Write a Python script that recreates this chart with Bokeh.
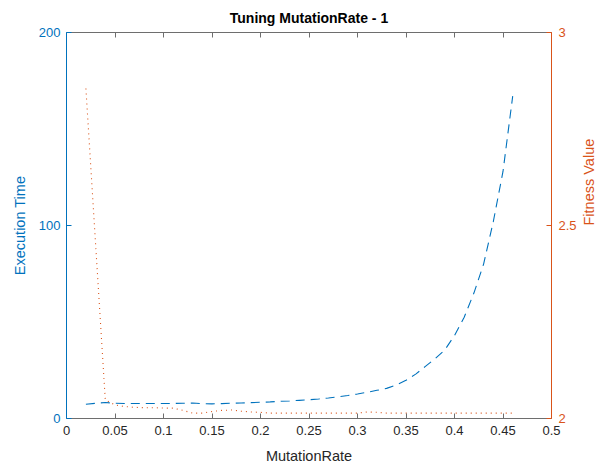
import math
from bokeh.plotting import figure
from bokeh.models import (Range1d, LinearAxis, FixedTicker, ColumnDataSource,
                          CustomLabelingPolicy)
from bokeh.embed import file_html
from bokeh.resources import INLINE

# ---- data ----
mutation_rate = [0.02, 0.04, 0.05, 0.06, 0.07, 0.08, 0.09, 0.10, 0.11, 0.12,
                 0.13, 0.14, 0.15, 0.16, 0.17, 0.18, 0.19, 0.20, 0.21, 0.22,
                 0.23, 0.24, 0.25, 0.26, 0.27, 0.28, 0.29, 0.30, 0.31, 0.32,
                 0.33, 0.34, 0.35, 0.36, 0.37, 0.38, 0.39, 0.40, 0.41, 0.42,
                 0.43, 0.44, 0.45, 0.46]
execution_time = [7.4, 8.3, 7.9, 7.8, 7.8, 7.8, 7.8, 7.8, 7.8, 7.9,
                  8.0, 7.7, 7.6, 7.7, 7.9, 8.0, 8.2, 8.4, 8.6, 8.9,
                  9.1, 9.4, 9.7, 10.1, 10.6, 11.2, 11.9, 12.7, 13.6, 14.6,
                  15.6, 17.4, 19.8, 23.0, 27.0, 31.0, 35.5, 43.0, 52.5, 65.0,
                  80.0, 102.0, 128.0, 167.0]
fitness_value = [2.855, 2.048, 2.035, 2.031, 2.029, 2.028, 2.028, 2.027, 2.027, 2.021,
                 2.014, 2.014, 2.018, 2.021, 2.022, 2.019, 2.017, 2.016, 2.014, 2.014,
                 2.014, 2.014, 2.014, 2.014, 2.014, 2.014, 2.014, 2.014, 2.017, 2.016,
                 2.014, 2.014, 2.014, 2.014, 2.014, 2.014, 2.014, 2.014, 2.014, 2.014,
                 2.014, 2.014, 2.014, 2.014]

x_ticks = [0, 0.05, 0.1, 0.15, 0.2, 0.25, 0.3, 0.35, 0.4, 0.45, 0.5]
x_tick_labels = ["0", "0.05", "0.1", "0.15", "0.2", "0.25", "0.3", "0.35", "0.4", "0.45", "0.5"]
left_ticks = [0, 100, 200]
left_tick_labels = ["0", "100", "200"]
right_ticks = [2, 2.5, 3]
right_tick_labels = ["2", "2.5", "3"]

BLUE = "#0072BD"
ORANGE = "#D95319"
DARK = "#262626"
GREY = "#6e6e6e"
FONT = "Liberation Sans"

src = ColumnDataSource(dict(x=mutation_rate, t=execution_time, f=fitness_value))

p = figure(width=607, height=466, output_backend="svg", toolbar_location=None,
           x_range=Range1d(0, 0.5), y_range=Range1d(0, 200),
           min_border_left=66, min_border_right=52, min_border_top=32, min_border_bottom=48,
           x_axis_location=None, y_axis_location=None)
p.extra_y_ranges = {"fit": Range1d(2, 3)}
p.grid.visible = False
p.outline_line_color = None
p.background_fill_color = "white"
p.border_fill_color = "white"

p.title.text = "Tuning MutationRate - 1"
p.title.align = "center"
p.title.text_font = FONT
p.title.text_font_size = "14px"
p.title.text_font_style = "bold"
p.title.text_color = "black"
p.title.standoff = 6


def style(ax, color, ticks, labels):
    ax.ticker = FixedTicker(ticks=ticks)
    ax.major_label_overrides = {t: l for t, l in zip(ticks, labels)}
    ax.axis_line_color = color
    ax.major_tick_line_color = color
    ax.major_label_text_color = color
    ax.axis_label_text_color = color
    ax.major_tick_in = 5
    ax.major_tick_out = 0
    ax.minor_tick_line_color = None
    ax.major_label_text_font = FONT
    ax.major_label_text_font_size = "13px"
    ax.axis_label_text_font = FONT
    ax.axis_label_text_font_size = "14.5px"
    ax.axis_label_text_font_style = "normal"


xb = LinearAxis(axis_label="MutationRate")
style(xb, DARK, x_ticks, x_tick_labels)
xb.axis_line_color = GREY
xb.major_tick_line_color = GREY
xb.major_label_standoff = 7
xb.axis_label_standoff = 10
p.add_layout(xb, "below")

xt = LinearAxis()
style(xt, GREY, x_ticks, x_tick_labels)
xt.major_label_policy = CustomLabelingPolicy(code="""
    for (const i of indices) { indices.unset(i) }
    return indices
""")
xt.major_label_text_font_size = "1px"
xt.major_label_standoff = 0
p.add_layout(xt, "above")

yl = LinearAxis(axis_label="Execution Time")
style(yl, BLUE, left_ticks, left_tick_labels)
yl.major_label_standoff = 6
yl.axis_label_standoff = 8
p.add_layout(yl, "left")

yr = LinearAxis(y_range_name="fit", axis_label="Fitness Value")
style(yr, ORANGE, right_ticks, right_tick_labels)
yr.major_label_standoff = 7
yr.axis_label_standoff = 9
yr.axis_label_orientation = math.pi / 2
p.add_layout(yr, "right")

p.line("x", "t", source=src, line_color=BLUE, line_width=1.1, line_dash="9 6")
p.line("x", "f", source=src, y_range_name="fit", line_color=ORANGE, line_width=1.1,
       line_dash="1 4")

open("out.html", "w").write(file_html(p, INLINE))
